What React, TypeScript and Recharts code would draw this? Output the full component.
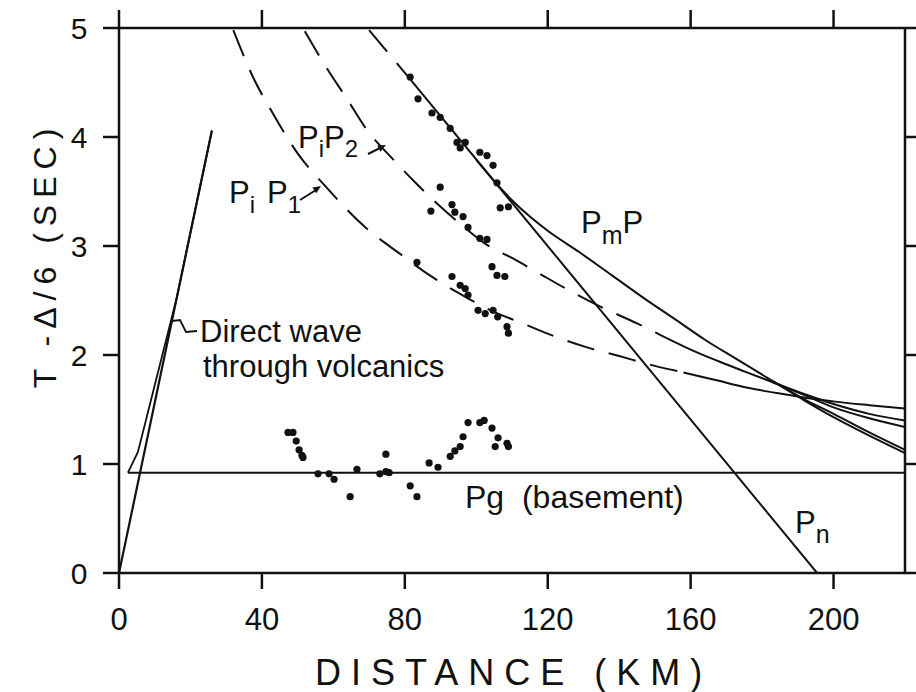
import { ComposedChart, Line, Scatter, XAxis, YAxis } from "recharts";

// travel-time curves as [distance km, reduced time s]
const DIRECT_A: [number, number][] = [[0, 0], [26, 4.06]];
const DIRECT_B: [number, number][] = [[2.5, 0.92], [5.3, 1.11], [16.2, 2.53], [26, 4.06]];
const PG: [number, number][] = [[2.5, 0.92], [220, 0.92]];
const PN_DASHED: [number, number][] = [[70, 4.98], [80.5, 4.57]];
const PN: [number, number][] = [[80.5, 4.57], [195.4, 0]];
const PMP: [number, number][] = [
  [100, 3.79], [106, 3.56], [110, 3.42], [115, 3.27], [120, 3.14], [129, 2.94], [138, 2.73],
  [147, 2.52], [156, 2.32], [164, 2.14], [173, 1.96], [183, 1.76], [192, 1.58], [200, 1.43],
  [210, 1.26], [220, 1.1],
];
const PMP_B: [number, number][] = [[183, 1.76], [192, 1.59], [200, 1.46], [210, 1.29], [220, 1.13]];
const PIP1_DASHED: [number, number][] = [
  [32, 4.98], [37.5, 4.55], [43, 4.22], [50, 3.85], [58, 3.54], [69, 3.17], [79, 2.92], [87, 2.73],
  [95, 2.57], [104, 2.41], [113, 2.29], [122, 2.17], [131, 2.07], [140, 1.99], [150, 1.9], [158, 1.84],
];
const PIP1: [number, number][] = [[158, 1.84], [167, 1.77], [176, 1.7], [190, 1.62], [201, 1.57], [210, 1.54], [220, 1.51]];
const PIP2_DASHED: [number, number][] = [
  [52, 4.97], [58, 4.64], [64, 4.34], [69.5, 4.06], [76, 3.82], [83, 3.58], [89, 3.39], [96, 3.19],
  [103, 3.01], [110, 2.89], [117, 2.76], [125, 2.61], [135, 2.44], [145, 2.29], [153, 2.16],
];
const PIP2: [number, number][] = [[153, 2.16], [160, 2.05], [168, 1.94], [175, 1.85], [183, 1.75], [192, 1.64], [200, 1.55], [210, 1.46], [220, 1.4]];
const PIP2_B: [number, number][] = [[183, 1.75], [192, 1.63], [200, 1.52], [210, 1.42], [220, 1.34]];

// observed arrivals
const PN_POINTS: [number, number][] = [
  [81.5, 4.55], [83.7, 4.35], [87.6, 4.22], [89.9, 4.18], [92.7, 4.08], [94.6, 3.95], [96.9, 3.95],
  [95.5, 3.9], [101, 3.86], [103, 3.83], [104.7, 3.74], [105.8, 3.58], [106.7, 3.35], [109, 3.36],
];
const PIP2_POINTS: [number, number][] = [
  [89.9, 3.54], [87.3, 3.32], [93.2, 3.38], [94, 3.31], [96.3, 3.27], [97.7, 3.17], [101, 3.07], [103, 3.06],
];
const PIP1_POINTS: [number, number][] = [
  [83.4, 2.85], [93.2, 2.72], [95.5, 2.64], [96.9, 2.61], [97.7, 2.55], [104.4, 2.81], [105.8, 2.73],
  [108, 2.72], [100.5, 2.41], [102.5, 2.38], [104.7, 2.41], [106, 2.35], [108.6, 2.26], [109, 2.2],
];
const PG_POINTS: [number, number][] = [
  [47.3, 1.29], [48.7, 1.29], [49.6, 1.21], [50.4, 1.13], [51.2, 1.08], [51.5, 1.06], [55.7, 0.91],
  [58.8, 0.91], [60.2, 0.86], [64.7, 0.7], [66.6, 0.95], [73, 0.91], [74.7, 0.93], [75.6, 0.92],
  [74.7, 1.09], [81.5, 0.8], [83.4, 0.7], [86.8, 1.01], [89.3, 0.97], [92.7, 1.07], [94, 1.12],
  [95.5, 1.16], [96.3, 1.25], [97.7, 1.38], [101, 1.38], [102.2, 1.4], [104.4, 1.33], [106.1, 1.24],
  [105.3, 1.16], [108.6, 1.19], [109, 1.16],
];

const X_TICKS = [0, 40, 80, 120, 160, 200];
const Y_TICKS = [0, 1, 2, 3, 4, 5];

const FONT = "'Liberation Sans', Arial, sans-serif";
const INK = "#111";

const pts = (a: [number, number][]) => a.map(([x, y]) => ({ x, y }));

const YTick = ({ y, payload }: any) => (
  <text x={79} y={y + 11} textAnchor="middle" fontSize={30} fontFamily={FONT} fill={INK}>
    {payload.value}
  </text>
);
const XTick = ({ x, payload }: any) => (
  <text x={x} y={630} textAnchor="middle" fontSize={31} fontFamily={FONT} fill={INK}>
    {payload.value}
  </text>
);
const NoTick = () => <g />;
const Dot = ({ cx, cy }: any) => <circle cx={cx} cy={cy} r={3.6} fill={INK} />;

function curve(key: string, data: [number, number][], dashed = false, width = 2, linear = false, ids?: { x: string; y: string }) {
  return (
    <Line
      key={key}
      data={pts(data)}
      dataKey="y"
      type={linear ? "linear" : "monotone"}
      stroke={INK}
      strokeWidth={width}
      strokeDasharray={dashed ? "28 15" : undefined}
      dot={false}
      isAnimationActive={false}
      {...(ids ? { xAxisId: ids.x, yAxisId: ids.y } : {})}
    />
  );
}

function arrowHead(x1: number, y1: number, x2: number, y2: number) {
  const a = Math.atan2(y2 - y1, x2 - x1);
  const l = 8;
  const w = 3.5;
  const bx = x2 - l * Math.cos(a);
  const by = y2 - l * Math.sin(a);
  return `${x2},${y2} ${bx + w * Math.sin(a)},${by - w * Math.cos(a)} ${bx - w * Math.sin(a)},${by + w * Math.cos(a)}`;
}

export default function App() {
  const axisLine = { stroke: INK, strokeWidth: 2.5 };
  return (
    <div style={{ position: "relative", width: 916, height: 692, background: "#fff" }}>
      <style>{"body{margin:0}"}</style>
      <ComposedChart width={916} height={692} margin={{ top: 0, right: 0, bottom: 0, left: 0 }}>
        <XAxis
          dataKey="x"
          type="number"
          domain={[0, 220]}
          ticks={X_TICKS}
          height={119}
          tickSize={16}
          axisLine={axisLine}
          tickLine={axisLine}
          tick={<XTick />}
          allowDataOverflow
        />
        <XAxis
          xAxisId="top"
          orientation="top"
          dataKey="x"
          type="number"
          domain={[0, 220]}
          ticks={X_TICKS}
          height={28}
          tickSize={18}
          axisLine={axisLine}
          tickLine={axisLine}
          tick={<NoTick />}
          allowDataOverflow
        />
        <YAxis
          type="number"
          domain={[0, 5]}
          ticks={Y_TICKS}
          width={119}
          tickSize={16}
          axisLine={axisLine}
          tickLine={axisLine}
          tick={<YTick />}
          allowDataOverflow
        />
        <YAxis
          yAxisId="right"
          orientation="right"
          type="number"
          domain={[0, 5]}
          ticks={Y_TICKS}
          width={11}
          tickSize={11}
          axisLine={axisLine}
          tickLine={axisLine}
          tick={<NoTick />}
          allowDataOverflow
        />
        {curve("directA", DIRECT_A, false, 2.2, true)}
        {curve("directB", DIRECT_B, false, 1.8, true)}
        {curve("pg", PG, false, 2, true, { x: "top", y: "right" })}
        {curve("pnDashed", PN_DASHED, true, 2, true)}
        {curve("pn", PN, false, 2, true)}
        {curve("pmp", PMP)}
        {curve("pmpB", PMP_B)}
        {curve("pip1Dashed", PIP1_DASHED, true)}
        {curve("pip1", PIP1)}
        {curve("pip2Dashed", PIP2_DASHED, true)}
        {curve("pip2", PIP2)}
        {curve("pip2B", PIP2_B)}
        <Scatter data={pts(PN_POINTS)} dataKey="y" shape={<Dot />} isAnimationActive={false} />
        <Scatter data={pts(PIP2_POINTS)} dataKey="y" shape={<Dot />} isAnimationActive={false} />
        <Scatter data={pts(PIP1_POINTS)} dataKey="y" shape={<Dot />} isAnimationActive={false} />
        <Scatter data={pts(PG_POINTS)} dataKey="y" shape={<Dot />} isAnimationActive={false} />
      </ComposedChart>
      <svg
        width={916}
        height={692}
        style={{ position: "absolute", left: 0, top: 0, pointerEvents: "none" }}
        fontFamily={FONT}
        fill={INK}
      >
        <text x={48} y={255} fontSize={32} textAnchor="middle" letterSpacing={7} transform="rotate(-90 48 255)" dominantBaseline="middle">
          T -Δ/6 (SEC)
        </text>
        <text x={315} y={685} fontSize={36} letterSpacing={10}>
          DISTANCE  (KM)
        </text>
        <text x={200} y={342} fontSize={31}>Direct wave</text>
        <text x={203} y={377} fontSize={31}>through volcanics</text>
        <path d="M172,321 L180,320 L183,326 L186,332 L197,331" fill="none" stroke={INK} strokeWidth={1.8} />
        <text x={465} y={508} fontSize={32} style={{ whiteSpace: "pre" }}>
          {"Pg  (basement)"}
        </text>
        <text x={795} y={533} fontSize={31}>
          P<tspan fontSize={25} dy={10}>n</tspan>
        </text>
        <text x={581} y={233} fontSize={31}>
          P<tspan fontSize={25} dy={11}>m</tspan>
          <tspan dy={-11}>P</tspan>
        </text>
        <text x={298} y={148} fontSize={31}>
          P<tspan fontSize={24} dy={9}>i</tspan>
          <tspan dy={-9}>P</tspan>
          <tspan fontSize={24} dy={9}>2</tspan>
        </text>
        <line x1={368} y1={154} x2={382} y2={147} stroke={INK} strokeWidth={2} />
        <polygon points={arrowHead(368, 154, 386, 145)} />
        <text x={229} y={203} fontSize={31}>
          P<tspan fontSize={24} dy={10}>i</tspan>
          <tspan dx={12} dy={-10}>P</tspan>
          <tspan fontSize={24} dy={10}>1</tspan>
        </text>
        <line x1={300} y1={200} x2={316} y2={190} stroke={INK} strokeWidth={2} />
        <polygon points={arrowHead(300, 200, 321, 186)} />
      </svg>
    </div>
  );
}
